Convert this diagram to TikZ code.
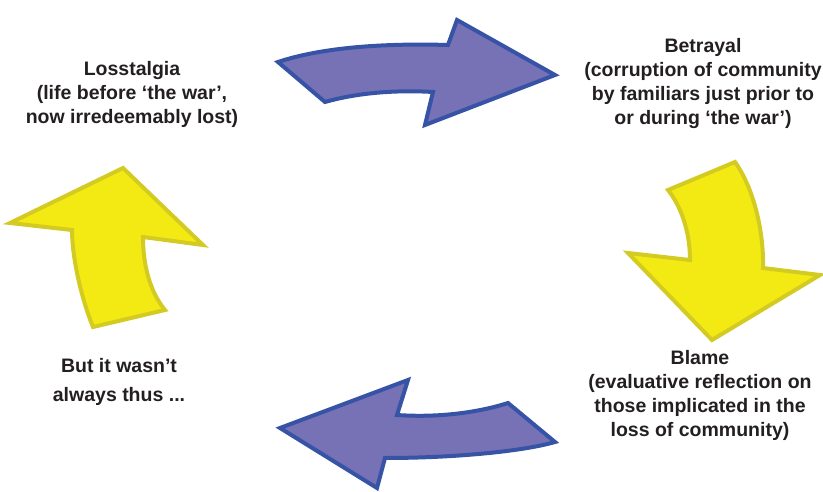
\documentclass[tikz,border=0pt]{standalone}
\usepackage{fontspec}
\setmainfont{Liberation Sans}
\usepackage{tikz}

\definecolor{bluefill}{HTML}{7771B6}
\definecolor{blueline}{HTML}{3753A5}
\definecolor{yellowfill}{HTML}{F3EA14}
\definecolor{yellowline}{HTML}{D3CB22}
\definecolor{textdark}{HTML}{231F20}

\begin{document}
\begin{tikzpicture}[x=1pt,y=-1pt,
  bluearrow/.style={fill=bluefill,draw=blueline,line width=4pt},
  yellowarrow/.style={fill=yellowfill,draw=yellowline,line width=4pt},
  label/.style={align=center,text=textdark,font=\fontsize{19.5}{24}\selectfont\bfseries}]
\useasboundingbox (0,0) rectangle (823,492);
%top arrow
\path[bluearrow] (278,62) -- (325,102) .. controls (360,92) and (400,90) .. (433,92)
  -- (425,125) -- (555,75) -- (457,20) -- (448,45)
  .. controls (380,43) and (320,48) .. (278,62) -- cycle;
%right arrow
\path[yellowarrow] (735,162) -- (668,190) .. controls (680,205) and (690,230) .. (690,260)
  -- (628,253) -- (712,340) -- (820,275) -- (763,268)
  .. controls (764,235) and (755,190) .. (735,162) -- cycle;
%bottom arrow
\path[bluearrow] (508,403) -- (555,442) .. controls (520,452) and (450,458) .. (385,458)
  -- (377,488) -- (280,428) -- (408,380) -- (397,415)
  .. controls (440,418) and (480,412) .. (508,403) -- cycle;
%left arrow
\path[yellowarrow] (165,310) -- (93,327) .. controls (80,295) and (72,255) .. (72,230)
  -- (10,223) -- (123,168) -- (203,245) -- (143,237)
  .. controls (143,265) and (150,292) .. (165,310) -- cycle;
%texts
\node[label] (losstalgia) at (132,94) {Losstalgia\\(life before ‘the war’,\\now irredeemably lost)};
\node[label] (betrayal) at (703,84) {Betrayal\\(corruption of community\\by familiars just prior to\\or during ‘the war’)};
\node[label] (blame) at (700,395) {Blame\\(evaluative reflection on\\those implicated in the\\loss of community)};
\node[label,font=\fontsize{19.5}{29}\selectfont\bfseries] (thus) at (119,382) {But it wasn’t\\always thus ...};
\end{tikzpicture}
\end{document}
